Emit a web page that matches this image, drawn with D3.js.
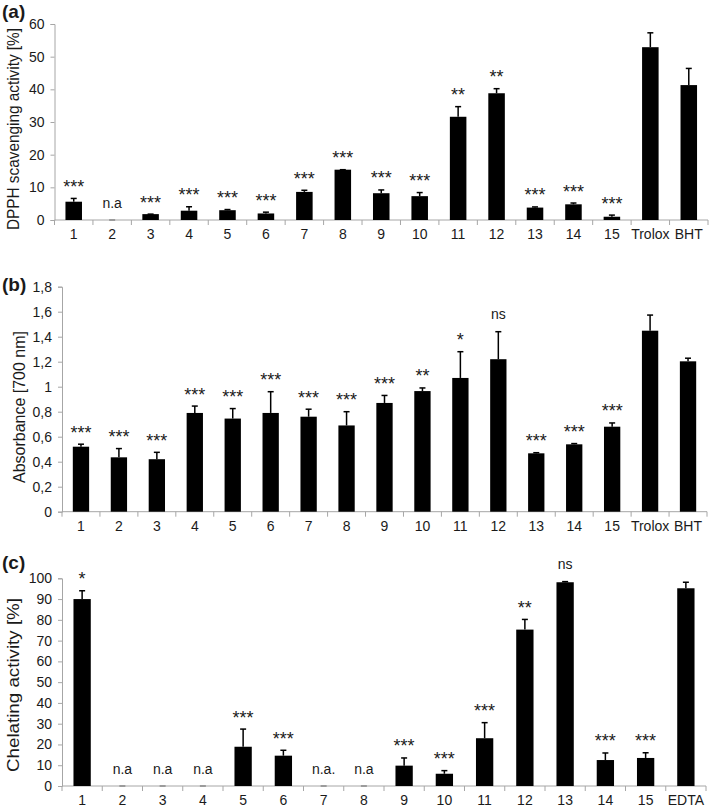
<!DOCTYPE html>
<html>
<head>
<meta charset="utf-8">
<script src="https://cdn.jsdelivr.net/npm/d3@7"></script>
<style>
  html, body { margin: 0; padding: 0; background: #fff; }
  svg { display: block; }
  text { font-family: "Liberation Sans", Arial, sans-serif; fill: #1a1a1a; }
</style>
</head>
<body>
<svg id="chart" width="710" height="811"></svg>
<script>
// ---------- DATA ----------
const catsAB = ["1","2","3","4","5","6","7","8","9","10","11","12","13","14","15","Trolox","BHT"];
const catsC  = ["1","2","3","4","5","6","7","8","9","10","11","12","13","14","15","EDTA"];

const dpphMean = [5.6, 0, 1.8, 2.85, 3.0, 2.0, 8.6, 15.4, 8.2, 7.3, 31.6, 38.8, 3.8, 4.8, 1.0, 52.9, 41.3];
const dpphErr  = [1.0, 0, 0,   1.2,  0.2, 0.4, 0.5, 0,    1.0, 1.1, 3.1,  1.4,  0.2, 0.4, 0.5, 4.4,  5.1];
const dpphSig  = ["***","n.a","***","***","***","***","***","***","***","***","**","**","***","***","***","",""];
const dpphTicks = [0, 10, 20, 30, 40, 50, 60];

const absMean = [0.52, 0.435, 0.42, 0.79, 0.745, 0.79, 0.76, 0.69, 0.87, 0.965, 1.07, 1.22, 0.467, 0.539, 0.68, 1.448, 1.203];
const absErr  = [0.02, 0.07,  0.055, 0.055, 0.08, 0.17, 0.06, 0.11, 0.06, 0.025, 0.21, 0.22, 0.005, 0.006, 0.03, 0.125, 0.025];
const absSig  = ["***","***","***","***","***","***","***","***","***","**","*","ns","***","***","***","",""];
const absTicks = [0, 0.2, 0.4, 0.6, 0.8, 1, 1.2, 1.4, 1.6, 1.8];

const chelMean = [90, 0, 0, 0, 18.9, 14.6, 0, 0, 9.8, 5.9, 23, 75.3, 98.1, 12.5, 13.5, 95.2];
const chelErr  = [4,  0, 0, 0, 8.5,  2.6,  0, 0, 3.7, 1.5, 7.5, 4.9, 0.3,  3.4,  2.5,  2.9];
const chelSig  = ["*","n.a","n.a","n.a","***","***","n.a.","n.a","***","***","***","**","ns","***","***",""];
const chelTicks = [0, 10, 20, 30, 40, 50, 60, 70, 80, 90, 100];

// ---------- DRAW ----------
const svg = d3.select("#chart");
const axisColor = "#a6a6a6";
const fmtComma = v => String(v).replace(".", ",");

function drawPanel(opt) {
  const g = svg.append("g");
  const x = d3.scaleBand().domain(opt.cats).range([opt.x0, opt.x1])
              .paddingInner(0.57).paddingOuter(0.285);
  const y = d3.scaleLinear().domain([0, opt.ymax]).range([opt.y0, opt.y1]);
  const bw = x.bandwidth();
  const step = x.step();

  const data = opt.cats.map((c, i) => ({c, v: opt.mean[i], e: opt.err[i], s: opt.sig[i]}));

  // y axis
  const ya = g.append("g").attr("transform", `translate(${opt.x0},0)`)
    .call(d3.axisLeft(y).tickValues(opt.ticks).tickSize(4).tickPadding(6).tickFormat(opt.fmt));
  ya.select(".domain").attr("stroke", axisColor);
  ya.selectAll(".tick line").attr("stroke", axisColor);
  ya.selectAll(".tick text").attr("font-size", 14).attr("fill", "#1a1a1a")
    .attr("font-family", '"Liberation Sans", Arial, sans-serif');

  // x axis baseline and boundary ticks
  g.append("line").attr("x1", opt.x0).attr("x2", opt.x1).attr("y1", opt.y0).attr("y2", opt.y0)
    .attr("stroke", axisColor).attr("stroke-width", 1);
  const bounds = opt.cats.map(c => x(c) + bw / 2 - step / 2).concat([opt.x1]);
  g.selectAll(".bt").data(bounds).join("line")
    .attr("x1", d => d).attr("x2", d => d).attr("y1", opt.y0).attr("y2", opt.y0 + 5)
    .attr("stroke", axisColor).attr("stroke-width", 1);

  // x labels
  const xa = g.append("g").attr("transform", `translate(0,${opt.y0})`)
    .call(d3.axisBottom(x).tickSize(0).tickPadding(9));
  xa.select(".domain").remove();
  xa.selectAll(".tick text").attr("font-size", 14).attr("fill", "#1a1a1a")
    .attr("font-family", '"Liberation Sans", Arial, sans-serif');

  // bars
  g.selectAll(".bar").data(data).join("rect")
    .attr("x", d => x(d.c)).attr("width", bw)
    .attr("y", d => y(d.v)).attr("height", d => y(0) - y(d.v))
    .attr("fill", "#000");

  // error bars (upper only)
  const cx = d => x(d.c) + bw / 2;
  g.selectAll(".ev").data(data.filter(d => d.e > 0)).join("line")
    .attr("x1", cx).attr("x2", cx).attr("y1", d => y(d.v)).attr("y2", d => y(d.v + d.e))
    .attr("stroke", "#000").attr("stroke-width", 1.5);
  g.selectAll(".ec").data(data).join("line")
    .attr("x1", d => cx(d) - 3).attr("x2", d => cx(d) + 3)
    .attr("y1", d => y(d.v + d.e)).attr("y2", d => y(d.v + d.e))
    .attr("stroke", d => d.v === 0 ? "#888" : "#000").attr("stroke-width", 1.5);

  // significance labels
  g.selectAll(".sig").data(data.filter(d => d.s)).join("text")
    .attr("x", cx)
    .attr("y", d => {
      const top = y(d.v + d.e);
      return d.s.startsWith("*") ? top - 5.5 : top - 12.5;
    })
    .attr("text-anchor", "middle")
    .attr("font-size", d => d.s.startsWith("*") ? 18 : 14)
    .text(d => d.s);

  // axis title
  g.append("text")
    .attr("transform", `translate(${opt.titleX},${opt.titleY}) rotate(-90)`)
    .attr("text-anchor", "middle").attr("font-size", 16)
    .attr("textLength", opt.titleLen).attr("lengthAdjust", "spacingAndGlyphs")
    .text(opt.title);

  // panel label
  svg.append("text").attr("x", 2).attr("y", opt.labelY)
    .attr("font-size", 19).attr("font-weight", "bold").text(opt.label);
}

drawPanel({
  cats: catsAB, mean: dpphMean, err: dpphErr, sig: dpphSig, ticks: dpphTicks, ymax: 60,
  fmt: d3.format("d"),
  x0: 54.5, x1: 708, y0: 220, y1: 24,
  title: "DPPH scavenging activity [%]", titleX: 18.5, titleY: 129, titleLen: 202,
  label: "(a)", labelY: 17.5
});

drawPanel({
  cats: catsAB, mean: absMean, err: absErr, sig: absSig, ticks: absTicks, ymax: 1.8,
  fmt: fmtComma,
  x0: 62, x1: 707, y0: 511.7, y1: 286.7,
  title: "Absorbance [700 nm]", titleX: 25, titleY: 407, titleLen: 152,
  label: "(b)", labelY: 291
});

drawPanel({
  cats: catsC, mean: chelMean, err: chelErr, sig: chelSig, ticks: chelTicks, ymax: 100,
  fmt: d3.format("d"),
  x0: 62, x1: 706, y0: 786, y1: 578.3,
  title: "Chelating activity [%]", titleX: 18.5, titleY: 685, titleLen: 174,
  label: "(c)", labelY: 569
});
</script>
</body>
</html>
